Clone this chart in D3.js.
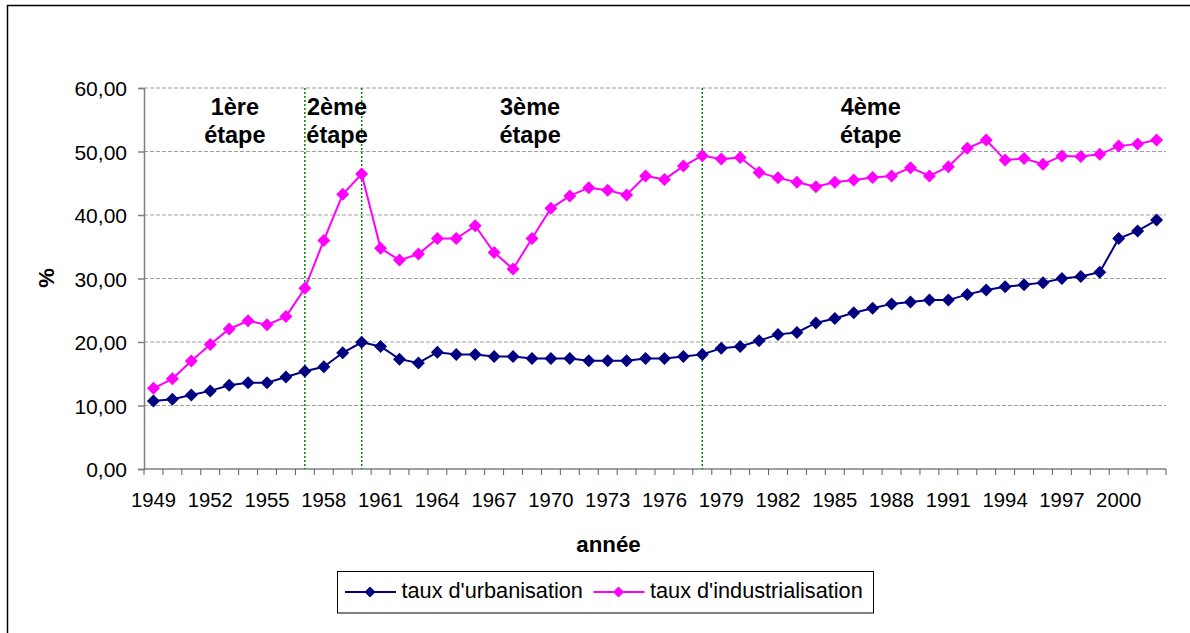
<!DOCTYPE html>
<html><head><meta charset="utf-8">
<script src="https://cdn.jsdelivr.net/npm/d3@7"></script>
<style>body{margin:0;background:#fff;} svg{display:block;font-family:"Liberation Sans",Arial,sans-serif;}</style>
</head><body><svg id="c" width="1190" height="633"></svg>
<script>
const years = [1949,1950,1951,1952,1953,1954,1955,1956,1957,1958,1959,1960,1961,1962,1963,1964,1965,1966,1967,1968,1969,1970,1971,1972,1973,1974,1975,1976,1977,1978,1979,1980,1981,1982,1983,1984,1985,1986,1987,1988,1989,1990,1991,1992,1993,1994,1995,1996,1997,1998,1999,2000,2001,2002];
const urbanisation = [10.7,11.0,11.65,12.3,13.2,13.6,13.6,14.5,15.4,16.1,18.3,19.95,19.3,17.3,16.7,18.4,18.05,18.05,17.7,17.7,17.4,17.4,17.4,17.05,17.05,17.05,17.4,17.4,17.7,18.05,19.0,19.3,20.2,21.2,21.5,23.0,23.7,24.6,25.3,26.0,26.3,26.6,26.6,27.5,28.2,28.7,29.0,29.35,30.0,30.3,31.0,36.3,37.5,39.2];
const industrialisation = [12.7,14.2,17.0,19.6,22.05,23.35,22.7,24.0,28.45,36.0,43.25,46.45,34.75,32.9,33.85,36.3,36.3,38.3,34.1,31.5,36.3,41.05,43.0,44.3,43.9,43.15,46.15,45.6,47.7,49.35,48.8,49.05,46.7,45.85,45.15,44.45,45.15,45.5,45.9,46.15,47.45,46.15,47.6,50.5,51.8,48.65,48.9,48.0,49.3,49.2,49.55,50.85,51.2,51.8];
const yTicks = [0,10,20,30,40,50,60];
const xTickLabels = [1949,1952,1955,1958,1961,1964,1967,1970,1973,1976,1979,1982,1985,1988,1991,1994,1997,2000];
const stageBoundaries = [1957,1960,1978];
const stageNames = ["1ère","2ème","3ème","4ème"];
const stageLabelYears = [1953.3,1958.7,1968.9,1986.9];
const seriesNames = ["taux d'urbanisation","taux d'industrialisation"];
const seriesColors = ["#000080","#FF00FF"];

const svg = d3.select("#c");
const L = 144, R = 1166, T = 88, B = 469;

// outer frame
svg.append("rect").attr("x",7.5).attr("y",5.5).attr("width",1200).attr("height",700)
  .attr("fill","none").attr("stroke","#000").attr("stroke-width",1.5);

const x = d3.scaleBand().domain(years).range([L,R]).padding(0);
const xc = d => x(d) + x.bandwidth()/2;
const xYear = d3.scaleLinear().domain([years[0]-0.5, years[years.length-1]+0.5]).range([L,R]);
const y = d3.scaleLinear().domain([0,60]).range([B,T]);

// gridlines
svg.append("g").selectAll("line").data(yTicks.filter(t=>t>0)).join("line")
  .attr("x1",L).attr("x2",R).attr("y1",d=>y(d)).attr("y2",d=>y(d))
  .attr("stroke","#a0a0a0").attr("stroke-width",1).attr("stroke-dasharray","4,2");

// y axis
const fmt = v => d3.format(".2f")(v).replace(".",",");
const ya = svg.append("g").attr("transform",`translate(${L},0)`)
  .call(d3.axisLeft(y).tickValues(yTicks).tickFormat(fmt).tickSize(6).tickPadding(11));
ya.select(".domain").attr("stroke","#808080").attr("stroke-width",1.5);
ya.selectAll(".tick line").attr("stroke","#808080").attr("stroke-width",1.5);
ya.selectAll("text").attr("font-size",21).attr("fill","#000").attr("font-family","Liberation Sans, Arial").attr("dy","0.36em");

// x axis
const xa = svg.append("g").attr("transform",`translate(0,${B})`);
xa.append("line").attr("x1",L).attr("x2",R).attr("stroke","#808080").attr("stroke-width",1.5);
const bounds = years.map(d=>x(d)).concat([R]);
xa.selectAll("line.t").data(bounds).join("line").attr("class","t")
  .attr("x1",d=>d).attr("x2",d=>d).attr("y1",0).attr("y2",6).attr("stroke","#606060").attr("stroke-width",1);
xa.selectAll("text").data(xTickLabels).join("text")
  .attr("x",d=>xc(d)).attr("y",37.5).attr("text-anchor","middle")
  .attr("font-size",20.3).attr("fill","#000").text(d=>d);

// stage boundaries
svg.append("g").selectAll("line").data(stageBoundaries).join("line")
  .attr("x1",d=>xc(d)).attr("x2",d=>xc(d)).attr("y1",T).attr("y2",B)
  .attr("stroke","#008000").attr("stroke-width",1.5).attr("stroke-dasharray","2,2");

// stage labels
const sl = svg.append("g").selectAll("text").data(stageNames).join("text")
  .attr("text-anchor","middle").attr("font-weight","bold").attr("font-size",23.5).attr("fill","#000");
sl.append("tspan").attr("x",(d,i)=>xYear(stageLabelYears[i])).attr("y",115).text(d=>d);
sl.append("tspan").attr("x",(d,i)=>xYear(stageLabelYears[i])).attr("y",143).text("étape");

// series
const diamond = (s) => `M0,${-s}L${s},0L0,${s}L${-s},0Z`;
[urbanisation, industrialisation].forEach((vals,k)=>{
  const line = d3.line().x((d,i)=>xc(years[i])).y(d=>y(d));
  svg.append("path").datum(vals).attr("d",line).attr("fill","none")
    .attr("stroke",seriesColors[k]).attr("stroke-width",2);
  svg.append("g").selectAll("path").data(vals).join("path")
    .attr("transform",(d,i)=>`translate(${xc(years[i])},${y(d)})`)
    .attr("d",diamond(6.5)).attr("fill",seriesColors[k]);
});

// axis titles
svg.append("text").attr("transform","translate(54,278) rotate(-90)").attr("text-anchor","middle")
  .attr("font-weight","bold").attr("font-size",22).text("%");
svg.append("text").attr("x",608.5).attr("y",551.5).attr("text-anchor","middle")
  .attr("font-weight","bold").attr("font-size",22.3).text("année");

// legend
const lg = svg.append("g");
lg.append("rect").attr("x",337.5).attr("y",571.5).attr("width",536).attr("height",41.5)
  .attr("fill","#fff").attr("stroke","#000").attr("stroke-width",1);
const legX = [345,593.5];
seriesNames.forEach((n,k)=>{
  const g = lg.append("g").attr("transform",`translate(${legX[k]},592)`);
  g.append("line").attr("x1",0).attr("x2",51).attr("stroke",seriesColors[k]).attr("stroke-width",2);
  g.append("path").attr("transform","translate(25,0)").attr("d",diamond(5.5)).attr("fill",seriesColors[k]);
  g.append("text").attr("x",56.5).attr("y",5.5).attr("font-size",21.7).attr("fill","#000").text(n);
});
</script></body></html>
